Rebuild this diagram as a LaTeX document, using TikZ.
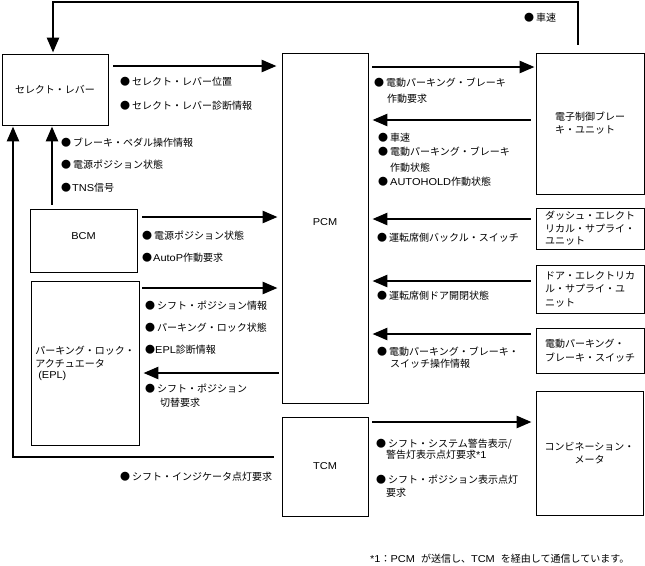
\documentclass[tikz,border=0pt]{standalone}
\usepackage{fontspec}
\setmainfont{Noto Sans CJK JP}
\newfontfamily\latf[FakeStretch=1.1]{Liberation Sans}
\newcommand{\lt}[1]{{\latf #1}}
\newcommand{\blt}{●\kern2pt}
\usetikzlibrary{arrows.meta}
\begin{document}
\begin{tikzpicture}[x=1pt,y=-1pt,
  box/.style={draw, line width=0.9pt, inner sep=0pt, font=\fontsize{10}{13}\selectfont, align=center},
  lbl/.style={anchor=north west, inner sep=0pt, font=\fontsize{10}{13}\selectfont, align=left},
  arr/.style={line width=2.6pt, -{Triangle[length=15pt,width=12pt]}},
  ]
\useasboundingbox (0,0) rectangle (645,565);
% boxes
\node[box, minimum width=106pt, minimum height=71pt] (sel) at (55,89.5) {セレクト・レバー};
\node[box, minimum width=86pt, minimum height=350pt] (pcm) at (325,228) {\smash{\raisebox{2.5pt}{\lt{PCM}}}};
\node[box, minimum width=108pt, minimum height=141pt, align=left] (ecb) at (590,123.5) {電子制御ブレー\\キ・ユニット};
\node[box, minimum width=107pt, minimum height=63pt] (bcm) at (83.5,240.5) {\smash{\raisebox{1pt}{\lt{BCM}}}};
\node[box, minimum width=108pt, minimum height=164pt, align=left] (epl) at (85,363) {パーキング・ロック・\\アクチュエータ\\[-2pt]\hspace*{3pt}\lt{(EPL)}};
\node[box, minimum width=108pt, minimum height=41pt, align=left] (dsu) at (590,228.5) {ダッシュ・エレクト\\[-0.5pt]リカル・サプライ・\\[-0.5pt]ユニット};
\node[box, minimum width=108pt, minimum height=48pt, align=left] (desu) at (590,289) {ドア・エレクトリカ\\[0.5pt]ル・サプライ・ユ\\[0.5pt]ニット};
\node[box, minimum width=108pt, minimum height=45pt, align=left] (epbs) at (590,350.5) {電動パーキング・\\[1pt]ブレーキ・スイッチ};
\node[box, minimum width=86pt, minimum height=99pt] (tcm) at (325,466.5) {\lt{TCM}};
\node[box, minimum width=107pt, minimum height=124pt] (meter) at (589.5,453) {コンビネーション・\\メータ};
% connectors
\draw[arr, shorten <=5pt, shorten >=5pt] (sel.east |- 0,66) -- (pcm.west |- 0,66);
\draw[arr, shorten <=4pt, shorten >=1pt] (pcm.east |- 0,67) -- (ecb.west |- 0,67);
\draw[arr, shorten <=5pt, shorten >=4pt] (ecb.west |- 0,120) -- (pcm.east |- 0,120);
\draw[arr, shorten <=5pt, shorten >=4pt] (bcm.east |- 0,217) -- (pcm.west |- 0,217);
\draw[arr, shorten <=3pt, shorten >=4pt] (epl.east |- 0,288) -- (pcm.west |- 0,288);
\draw[arr, shorten <=3pt, shorten >=4pt] (pcm.west |- 0,373) -- (epl.east |- 0,373);
\draw[arr, shorten <=5pt, shorten >=4pt] (dsu.west |- 0,219) -- (pcm.east |- 0,219);
\draw[arr, shorten <=5pt, shorten >=4pt] (desu.west |- 0,281) -- (pcm.east |- 0,281);
\draw[arr, shorten <=5pt, shorten >=4pt] (epbs.west |- 0,334) -- (pcm.east |- 0,334);
\draw[arr, shorten <=4pt, shorten >=4pt] (tcm.east |- 0,422) -- (meter.west |- 0,422);
\draw[arr, shorten <=8pt, shorten >=1pt] (ecb.north -| 578,0) -- (578,2) -| (sel.north -| 53,0);
\draw[arr, shorten <=8pt, shorten >=1pt] (tcm.west |- 0,457) -| (sel.south -| 13,0);
\draw[arr, shorten <=4pt, shorten >=1pt] (bcm.north -| 52,0) -- (sel.south -| 52,0);
% labels
\node[lbl] (l1) at (120,76.5) {\blt セレクト・レバー位置};
\node[lbl] (l2) at (120,100.5) {\blt セレクト・レバー診断情報};
\node[lbl] (l3) at (61,137.5) {\blt ブレーキ・ペダル操作情報};
\node[lbl] (l4) at (61,159.5) {\blt 電源ポジション状態};
\node[lbl] (l5) at (61,182.5) {●\kern1pt\lt{TNS}信号};
\node[lbl] (l6) at (524,12.5) {\blt 車速};
\node[lbl] (l7) at (374,77.5) {\blt 電動パーキング・ブレーキ\\[3pt]\hspace*{13pt}作動要求};
\node[lbl] (l8) at (378,132.5) {\blt 車速};
\node[lbl] (l9) at (378,146.5) {\blt 電動パーキング・ブレーキ\\[3pt]\hspace*{12pt}作動状態};
\node[lbl] (l10) at (378,176.5) {\blt\lt{AUTOHOLD}作動状態};
\node[lbl] (l11) at (142,230.5) {\blt 電源ポジション状態};
\node[lbl] (l12) at (142,252.5) {●\kern1pt\lt{AutoP}作動要求};
\node[lbl] (l13) at (145,300.5) {\blt シフト・ポジション情報};
\node[lbl] (l14) at (145,322.5) {\blt パーキング・ロック状態};
\node[lbl] (l15) at (145,344.5) {●\lt{EPL}診断情報};
\node[lbl] (l16) at (145,383.5) {\blt シフト・ポジション\\[1pt]\hspace*{15pt}切替要求};
\node[lbl] (l17) at (377,232.5) {\blt 運転席側バックル・スイッチ};
\node[lbl] (l18) at (377,290.5) {\blt 運転席側ドア開閉状態};
\node[lbl] (l19) at (377,346.5) {\blt 電動パーキング・ブレーキ・\\[-1pt]\hspace*{13pt}スイッチ操作情報};
\node[lbl] (l20) at (376,438.5) {\blt シフト・システム警告表示/\\[-2pt]\hspace*{10pt}警告灯表示点灯要求\lt{*1}};
\node[lbl] (l21) at (376,474.5) {\blt シフト・ポジション表示点灯\\\hspace*{10pt}要求};
\node[lbl] (l22) at (120,471.5) {\blt シフト・インジケータ点灯要求};
\node[lbl] (foot) at (370,553.5) {\lt{*1}：\lt{PCM}\hspace{6pt}が送信し、\lt{TCM}\hspace{6pt}を経由して通信しています。};
\end{tikzpicture}
\end{document}
